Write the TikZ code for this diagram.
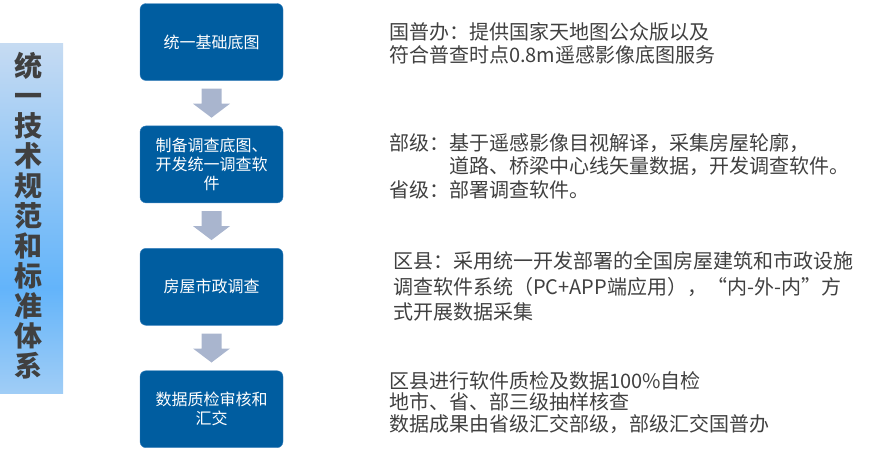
\documentclass[tikz,border=0pt]{standalone}
\usepackage{fontspec}
\setmainfont{Noto Sans CJK SC}
\usepackage{tikz}
\usetikzlibrary{positioning,calc}

\definecolor{boxblue}{RGB}{0,93,160}
\definecolor{boxline}{RGB}{60,130,190}
\definecolor{arrowgray}{RGB}{169,181,206}
\definecolor{textgray}{RGB}{64,64,64}
\definecolor{bartop}{RGB}{198,219,242}
\definecolor{barmid}{RGB}{99,180,250}
\definecolor{barlow}{RGB}{160,205,246}
\pgfdeclareverticalshading{barshade}{100bp}{color(0bp)=(barlow); color(25bp)=(barlow); color(40bp)=(barmid); color(75bp)=(bartop); color(100bp)=(bartop)}

\begin{document}
\begin{tikzpicture}[
    x=1pt, y=-1pt,
    box/.style = {draw=boxline,fill=boxblue,text=white,rounded corners=6pt,
      minimum width=143pt,minimum height=77pt,align=center,
      font=\fontsize{16}{19}\selectfont},
    note/.style = {anchor=west,inner sep=0pt,align=left,text=textgray},
    bar/.style = {shading=barshade,minimum width=63pt,minimum height=350pt,inner sep=0pt},
    bartext/.style = {text=textgray,align=center,inner sep=0pt,
      font=\bfseries\fontsize{28}{30}\selectfont}
  ]
    \useasboundingbox (0,0) rectangle (870,450);
    % left title bar
    \node[bar] (bar) at (31.5,218) {};
    \node[bartext] (title) at (28,216) {统\\一\\技\\术\\规\\范\\和\\标\\准\\体\\系};
    % flow boxes
    \node[box] (b1) at (211.5,42) {统一基础底图};
    \node[box, below=45pt of b1] (b2) {制备调查底图、\\开发统一调查软\\件};
    \node[box, below=45pt of b2] (b3) {房屋市政调查};
    \node[box, below=45pt of b3] (b4) {数据质检审核和\\汇交};
    \foreach \a/\b in {b1/b2,b2/b3,b3/b4}
      \fill[arrowgray] ($(\a.south)+(-10,8)$) -- ($(\a.south)+(10,8)$)
        -- ($(\a.south)+(10,23)$) -- ($(\a.south)+(18.5,23)$)
        -- ($(\b.north)+(0,-8)$) -- ($(\a.south)+(-18.5,23)$)
        -- ($(\a.south)+(-10,23)$) -- cycle;
    % notes
    \node[note, font=\fontsize{20}{23}\selectfont] (t1) at (389,43.5)
      {国普办：提供国家天地图公众版以及\\符合普查时点0.8m遥感影像底图服务};
    \node[note, font=\fontsize{20}{23.5}\selectfont] (t2) at (389,166)
      {部级：基于遥感影像目视解译，采集房屋轮廓，\\\hspace*{3em}道路、桥梁中心线矢量数据，开发调查软件。\\省级：部署调查软件。};
    \node[note, font=\fontsize{20}{25.5}\selectfont] (t3) at (393,286.5)
      {区县：采用统一开发部署的全国房屋建筑和市政设施\\调查软件系统（PC+APP端应用），“内-外-内”方\\式开展数据采集};
    \node[note, font=\fontsize{20}{21.5}\selectfont] (t4) at (389,402.5)
      {区县进行软件质检及数据100\%自检\\地市、省、部三级抽样核查\\数据成果由省级汇交部级，部级汇交国普办};
\end{tikzpicture}
\end{document}
